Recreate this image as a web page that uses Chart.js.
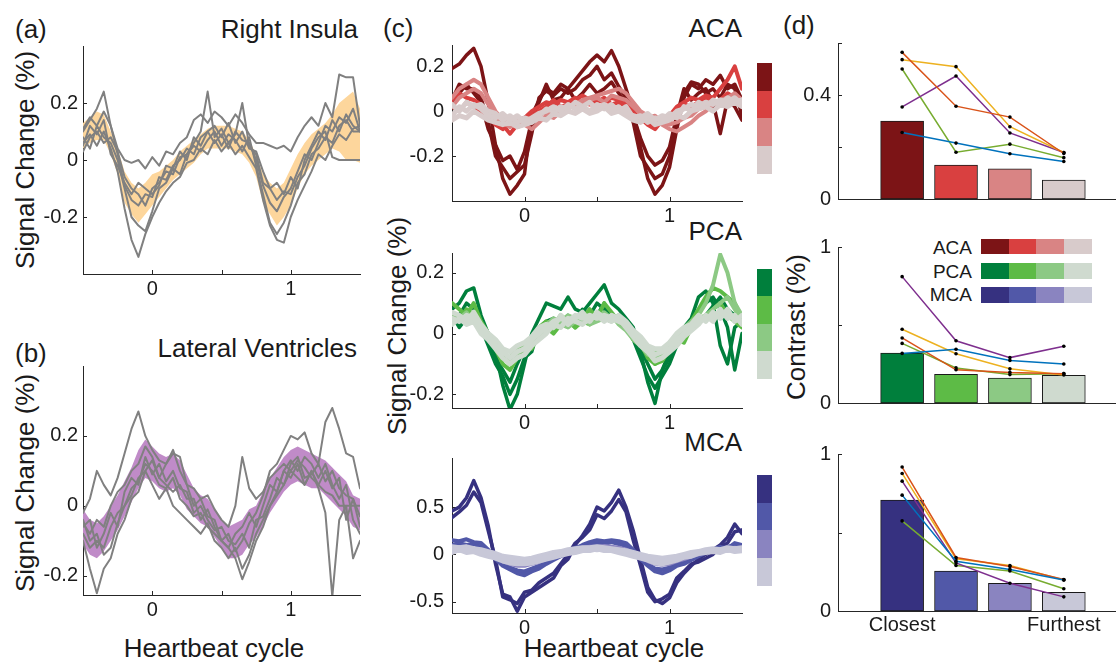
<!DOCTYPE html>
<html>
<head>
<meta charset="utf-8">
<title>Heartbeat-locked signal change</title>
<script src="https://cdn.jsdelivr.net/npm/chart.js@4.4.1/dist/chart.umd.min.js"></script>
<style>
  body { margin: 0; width: 1118px; height: 665px; position: relative; overflow: hidden; background: #fff;
         font-family: "Liberation Sans", Arial, sans-serif; color: #1a1a1a; }
  canvas { position: absolute; }
  .lbl { position: absolute; font-size: 26px; line-height: 26px; white-space: nowrap; }
  .rot { transform: translate(-50%, -50%) rotate(-90deg); }
  .leg { position: absolute; font-size: 19px; line-height: 19px; white-space: nowrap; }
  .sw { position: absolute; }
</style>
</head>
<body>

<div class="lbl" style="left:15px;top:16px">(a)</div>
<div class="lbl" style="right:760px;top:16px">Right Insula</div>
<div class="lbl" style="left:15px;top:340px">(b)</div>
<div class="lbl" style="right:761px;top:335px">Lateral Ventricles</div>
<div class="lbl rot" style="left:25px;top:160px">Signal Change (%)</div>
<div class="lbl rot" style="left:25px;top:483px">Signal Change (%)</div>
<div class="lbl" style="left:214px;top:635px;transform:translateX(-50%)">Heartbeat cycle</div>

<div class="lbl" style="left:383px;top:15px">(c)</div>
<div class="lbl" style="right:376px;top:15px">ACA</div>
<div class="lbl" style="right:376px;top:218px">PCA</div>
<div class="lbl" style="right:376px;top:429px">MCA</div>
<div class="lbl rot" style="left:397px;top:326px">Signal Change (%)</div>
<div class="lbl" style="left:614px;top:635px;transform:translateX(-50%)">Heartbeat cycle</div>

<div class="lbl" style="left:783px;top:12px">(d)</div>
<div class="lbl rot" style="left:796px;top:327px">Contrast (%)</div>
<div class="leg" style="right:146px;top:238px">ACA</div>
<div class="leg" style="right:146px;top:262px">PCA</div>
<div class="leg" style="right:146px;top:285px">MCA</div>

<script>
// heartbeat cycle sample positions
const cycle = [-0.5,-0.45,-0.4,-0.35,-0.3,-0.25,-0.2,-0.15,-0.1,-0.05,
  0,0.05,0.1,0.15,0.2,0.25,0.3,0.35,0.4,0.45,
  0.5,0.55,0.6,0.65,0.7,0.75,0.8,0.85,0.9,0.95,
  1,1.05,1.1,1.15,1.2,1.25,1.3,1.35,1.4,1.45,1.5];

// (a) right insula: spread band + single runs
const insulaUpper = [0.13,0.15,0.17,0.16,0.1,0.04,-0.04,-0.08,-0.1,-0.08, -0.05,-0.04,-0.02,0.0,0.03,0.05,0.07,0.09,0.11,0.12, 0.12,0.12,0.11,0.1,0.07,0.02,-0.05,-0.08,-0.1,-0.08, -0.03,0.02,0.06,0.09,0.11,0.13,0.16,0.2,0.22,0.24,0.18];
const insulaLower = [0.04,0.06,0.07,0.07,0.02,-0.05,-0.15,-0.19,-0.22,-0.19, -0.16,-0.13,-0.1,-0.07,-0.05,-0.03,-0.01,0.02,0.04,0.04, 0.04,0.04,0.03,0.02,-0.01,-0.06,-0.15,-0.19,-0.23,-0.2, -0.16,-0.1,-0.05,-0.02,0.0,0.02,0.04,0.03,0.0,0.0,-0.01];
const insulaRuns = [
  [0.06,0.09,0.05,0.1,0.04,-0.04,-0.17,-0.28,-0.34,-0.26, -0.2,-0.15,-0.11,-0.08,-0.06,-0.01,0.0,0.04,0.02,0.07, 0.03,0.06,0.02,0.05,0.01,-0.03,-0.14,-0.23,-0.28,-0.29, -0.2,-0.14,-0.09,-0.04,0.02,0.0,0.05,0.09,0.07,0.11,0.12],
  [0.11,0.15,0.12,0.17,0.12,0.04,0.0,-0.01,0.0,-0.03, 0.01,-0.02,0.03,0.02,0.06,0.08,0.14,0.16,0.13,0.17, 0.15,0.12,0.16,0.13,0.09,0.06,0.06,0.05,0.04,0.05, 0.03,0.08,0.12,0.15,0.12,0.2,0.15,0.3,0.29,0.29,0.12],
  [0.03,0.08,0.1,0.06,0.08,0.03,-0.06,-0.1,-0.12,-0.16, -0.1,-0.08,-0.04,-0.05,0.01,0.02,0.06,0.1,0.24,0.08, 0.11,0.06,0.09,0.2,0.05,0.02,-0.08,-0.1,-0.14,-0.11, -0.12,-0.06,-0.02,0.04,0.08,0.1,0.01,0.0,0.0,0.0,0.0],
  [0.1,0.14,0.18,0.24,0.12,0.02,-0.09,-0.14,-0.16,-0.12, -0.13,-0.06,-0.07,-0.02,0.0,0.04,0.02,0.08,0.1,0.06, 0.09,0.04,0.1,0.07,0.06,0.0,-0.09,-0.15,-0.18,-0.13, -0.1,-0.04,0.02,0.0,0.06,0.12,0.1,0.15,0.13,0.18,0.1],
  [0.08,0.04,0.12,0.08,0.06,0.0,-0.1,-0.2,-0.23,-0.25, -0.18,-0.1,-0.08,-0.03,-0.05,0.02,0.05,0.03,0.07,0.1, 0.05,0.09,0.07,0.03,0.08,-0.02,-0.12,-0.22,-0.26,-0.22, -0.16,-0.08,-0.05,0.02,0.04,0.08,0.06,0.12,0.14,0.1,0.1],
  [0.05,0.12,0.09,0.14,0.02,-0.02,-0.08,-0.12,-0.08,-0.1, -0.12,-0.09,-0.02,-0.03,0.03,0.0,0.08,0.05,0.1,0.12, 0.08,0.13,0.06,0.1,0.04,0.03,-0.04,-0.1,-0.08,-0.12, -0.06,-0.1,0.0,0.05,0.1,0.07,0.14,0.1,0.16,0.12,0.1]
];

// (b) lateral ventricles
const ventUpper = [-0.01,-0.04,-0.05,-0.03,0.0,0.03,0.07,0.11,0.16,0.19, 0.17,0.15,0.14,0.15,0.13,0.09,0.05,0.03,0.02,-0.01, -0.04,-0.06,-0.05,-0.04,-0.01,0.0,0.04,0.08,0.11,0.14, 0.16,0.17,0.16,0.15,0.14,0.13,0.11,0.09,0.07,0.03,0.02];
const ventLower = [-0.11,-0.14,-0.15,-0.13,-0.1,-0.07,-0.03,0.01,0.05,0.08, 0.07,0.05,0.04,0.05,0.03,-0.01,-0.03,-0.05,-0.06,-0.09, -0.12,-0.15,-0.15,-0.14,-0.11,-0.09,-0.06,-0.02,0.01,0.04, 0.06,0.07,0.06,0.05,0.05,0.03,0.01,-0.01,-0.03,-0.06,-0.07];
const ventRuns = [
  [-0.02,0.02,0.1,0.06,0.03,0.08,0.15,0.22,0.27,0.2, 0.16,0.13,0.12,0.15,0.14,0.06,0.05,0.02,0.03,-0.01, -0.04,-0.06,0.0,0.14,0.05,0.02,0.04,0.08,0.1,0.12, 0.1,0.13,0.11,0.08,0.06,0.1,0.05,0.08,-0.04,0.02,-0.06],
  [-0.1,-0.18,-0.25,-0.18,-0.15,-0.08,-0.04,0.02,0.04,0.1, 0.06,0.02,0.05,0.0,-0.02,-0.04,-0.06,-0.08,-0.05,-0.1, -0.12,-0.15,-0.12,-0.18,-0.14,-0.08,-0.04,0.0,0.04,0.1, 0.08,0.12,0.06,0.1,0.05,-0.02,-0.26,-0.04,0.0,-0.15,-0.1],
  [-0.05,-0.08,-0.04,-0.06,0.0,0.04,0.06,0.1,0.12,0.17, 0.14,0.08,0.12,0.16,0.1,0.06,0.0,0.02,-0.03,-0.04, -0.1,-0.08,-0.13,-0.1,-0.05,-0.02,0.03,0.1,0.12,0.16, 0.2,0.19,0.21,0.15,0.12,0.24,0.28,0.22,0.15,0.14,0.05],
  [-0.08,-0.12,-0.1,-0.12,-0.06,-0.02,0.0,0.05,0.07,0.12, 0.1,0.06,0.05,0.08,0.02,0.0,-0.03,-0.02,-0.06,-0.08, -0.1,-0.12,-0.15,-0.21,-0.16,-0.1,-0.06,0.0,0.03,0.06, 0.1,0.08,0.06,0.1,0.06,0.04,0.03,0.0,0.0,0.0,0.0],
  [-0.04,-0.1,-0.08,-0.14,-0.12,-0.05,0.0,0.03,0.08,0.1, 0.13,0.08,0.06,0.04,0.06,0.02,0.02,-0.04,-0.01,-0.06, -0.1,-0.12,-0.08,-0.06,-0.02,-0.06,0.0,0.06,0.04,0.1, 0.13,0.1,0.14,0.12,0.08,0.12,0.06,0.02,0.06,-0.04,-0.08],
  [-0.06,-0.04,-0.12,-0.08,-0.02,-0.06,0.04,0.08,0.06,0.14, 0.09,0.12,0.07,0.1,0.05,0.04,-0.02,0.0,-0.04,-0.07, -0.06,-0.1,-0.11,-0.08,-0.12,-0.04,-0.03,0.02,0.08,0.06, 0.12,0.14,0.08,0.09,0.12,0.07,0.1,0.05,0.03,0.02,-0.03]
];

// (c) vessel territories, closest -> furthest
const acaRuns = [
  [[0.19,0.21,0.25,0.28,0.2,0.04,-0.15,-0.3,-0.37,-0.33, -0.28,-0.02,0.05,0.1,0.08,0.12,0.1,0.14,0.18,0.22, 0.25,0.22,0.27,0.2,0.1,0.0,-0.16,-0.3,-0.37,-0.33, -0.25,-0.08,0.06,0.12,0.1,0.14,0.12,0.16,0.1,0.12,0.05],
   [0.05,0.12,0.1,0.1,0.06,-0.05,-0.2,-0.25,-0.3,-0.27, -0.24,-0.1,0.06,0.09,0.07,0.1,0.08,0.1,0.14,0.16, 0.2,0.14,0.17,0.11,0.06,-0.05,-0.2,-0.25,-0.3,-0.28, -0.2,-0.04,0.08,0.13,0.12,0.08,0.1,0.06,0.12,0.1,-0.02],
   [0.03,0.08,0.12,0.08,0.04,-0.08,-0.15,-0.22,-0.2,-0.26, -0.18,-0.04,0.04,0.12,0.05,0.06,0.1,0.05,0.08,0.12, 0.08,0.1,0.13,0.08,0.04,-0.02,-0.12,-0.2,-0.24,-0.22, -0.16,-0.02,0.1,0.05,0.08,0.1,0.04,-0.1,0.05,0.02,-0.04]],
  [[0.05,0.08,0.06,0.05,0.03,-0.02,-0.06,-0.08,-0.05,-0.04, -0.03,0.0,0.02,0.04,0.03,0.05,0.04,0.06,0.04,0.03, 0.05,0.04,0.06,0.05,0.03,0.0,-0.04,-0.05,-0.06,-0.05, -0.02,0.02,0.04,0.06,0.05,0.07,0.06,0.1,0.14,0.2,0.1],
   [0.02,0.0,0.04,0.02,0.0,-0.03,-0.03,-0.06,-0.1,-0.06, -0.04,-0.02,0.0,0.02,0.05,0.02,0.03,0.05,0.07,0.05, 0.04,0.06,0.03,0.04,0.02,-0.02,-0.03,-0.06,-0.08,-0.04, -0.05,0.0,0.03,0.02,0.04,0.06,0.03,0.05,0.08,0.06,0.04]],
  [[0.06,0.1,0.12,0.14,0.12,0.06,0.0,-0.04,-0.06,-0.07, -0.06,-0.08,-0.05,-0.02,-0.03,0.0,0.02,0.03,0.05,0.06, 0.07,0.08,0.09,0.1,0.08,0.04,0.0,-0.02,-0.04,-0.06, -0.08,-0.09,-0.07,-0.05,-0.02,0.0,0.03,0.05,0.06,0.08,0.05],
   [0.02,0.06,0.08,0.1,0.08,0.03,-0.02,-0.05,-0.07,-0.05, -0.04,-0.05,-0.02,0.0,-0.02,0.02,0.01,0.04,0.03,0.05, 0.06,0.04,0.07,0.06,0.05,0.02,-0.01,-0.03,-0.02,-0.05, -0.06,-0.05,-0.03,-0.02,0.01,0.02,0.04,0.03,0.05,0.06,0.03]],
  [[-0.02,0.02,0.0,0.03,0.01,-0.02,-0.03,-0.01,-0.04,-0.02, -0.05,-0.03,-0.01,0.0,0.02,0.0,0.03,0.01,0.02,0.04, 0.01,0.03,0.0,0.02,-0.01,-0.02,-0.03,-0.01,-0.04,-0.02, -0.03,0.0,0.01,0.03,0.02,0.04,0.03,0.05,0.04,0.06,0.03],
   [0.03,0.0,0.04,0.02,0.03,0.0,-0.01,-0.04,-0.02,-0.05, -0.03,-0.04,-0.02,0.01,0.0,0.02,0.01,0.04,0.02,0.0, 0.03,0.01,0.03,0.0,0.02,-0.03,-0.02,-0.05,-0.03,-0.04, -0.01,-0.03,0.02,0.0,0.04,0.02,0.05,0.03,0.06,0.04,0.05],
   [-0.04,-0.02,-0.03,0.0,-0.02,-0.04,-0.05,-0.06,-0.05,-0.07, -0.06,-0.05,-0.03,-0.04,-0.01,-0.02,0.0,-0.01,0.01,-0.01, 0.0,0.02,-0.01,0.0,-0.02,-0.04,-0.05,-0.03,-0.06,-0.05, -0.04,-0.02,-0.03,0.0,0.01,0.02,0.0,0.03,0.02,0.04,0.02]]
];
const pcaRuns = [
  [[0.08,0.1,0.14,0.15,0.06,0.0,-0.06,-0.17,-0.25,-0.2, -0.1,0.0,0.05,0.1,0.09,0.08,0.12,0.08,0.07,0.1, 0.13,0.16,0.1,0.08,0.05,0.02,-0.06,-0.16,-0.23,-0.12, -0.08,-0.02,0.02,0.05,0.12,0.14,0.1,-0.04,-0.1,0.02,0.04],
   [0.04,0.06,0.1,0.08,0.02,-0.04,-0.1,-0.14,-0.2,-0.15, -0.08,-0.06,0.02,0.04,0.05,0.03,0.06,0.04,0.08,0.06, 0.1,0.08,0.06,0.05,0.04,-0.02,-0.08,-0.14,-0.18,-0.14, -0.1,-0.04,-0.01,0.03,0.07,0.1,0.12,0.08,0.02,-0.12,0.0],
   [0.06,0.02,0.05,0.06,0.04,-0.02,-0.08,-0.12,-0.16,-0.1, -0.05,-0.02,0.0,0.03,0.02,0.04,0.03,0.06,0.05,0.07, 0.06,0.1,0.05,0.06,0.03,0.0,-0.05,-0.1,-0.15,-0.12, -0.06,-0.03,0.0,0.02,0.04,0.06,0.09,0.12,0.08,0.06,0.05]],
  [[0.1,0.08,0.06,0.1,0.04,0.0,-0.05,-0.1,-0.12,-0.08, -0.06,-0.02,0.02,0.04,0.03,0.06,0.04,0.02,0.05,0.08, 0.05,0.1,0.07,0.04,0.03,0.0,-0.03,-0.08,-0.1,-0.08, -0.06,-0.04,0.0,0.04,0.08,0.12,0.15,0.14,0.12,0.1,0.05],
   [0.05,0.04,0.08,0.06,0.03,-0.02,-0.04,-0.06,-0.1,-0.06, -0.04,-0.05,0.0,0.02,0.0,0.03,0.05,0.02,0.04,0.03, 0.06,0.05,0.04,0.06,0.02,-0.02,-0.04,-0.06,-0.1,-0.09, -0.05,-0.02,-0.03,0.02,0.04,0.06,0.08,0.1,0.06,0.04,0.02]],
  [[0.06,0.05,0.07,0.04,0.02,-0.02,-0.04,-0.08,-0.1,-0.07, -0.04,-0.02,0.0,0.03,0.05,0.04,0.06,0.05,0.04,0.06, 0.05,0.07,0.05,0.04,0.02,0.0,-0.02,-0.05,-0.08,-0.06, -0.04,-0.02,0.02,0.04,0.06,0.1,0.16,0.26,0.2,0.1,0.06],
   [0.03,0.06,0.04,0.05,0.01,-0.01,-0.03,-0.06,-0.08,-0.05, -0.06,-0.03,-0.01,0.01,0.02,0.03,0.02,0.04,0.06,0.03, 0.04,0.05,0.06,0.03,0.01,-0.02,-0.04,-0.07,-0.06,-0.08, -0.03,-0.01,0.0,0.02,0.05,0.06,0.08,0.1,0.12,0.08,0.04]],
  [[0.05,0.04,0.06,0.05,0.02,-0.01,-0.04,-0.06,-0.08,-0.06, -0.05,-0.02,0.0,0.02,0.04,0.05,0.04,0.06,0.05,0.06, 0.05,0.06,0.05,0.04,0.03,0.0,-0.02,-0.05,-0.07,-0.06, -0.05,-0.02,0.0,0.02,0.04,0.05,0.06,0.07,0.06,0.05,0.04],
   [0.03,0.05,0.03,0.04,0.0,-0.02,-0.05,-0.08,-0.1,-0.08, -0.07,-0.04,-0.02,0.0,0.03,0.02,0.05,0.04,0.03,0.05, 0.06,0.04,0.06,0.05,0.02,-0.01,-0.04,-0.06,-0.09,-0.08, -0.06,-0.04,-0.01,0.01,0.03,0.06,0.04,0.08,0.05,0.06,0.03],
   [0.07,0.06,0.04,0.07,0.03,0.0,-0.02,-0.05,-0.06,-0.04, -0.03,-0.01,0.02,0.03,0.02,0.06,0.03,0.05,0.07,0.04, 0.07,0.05,0.04,0.06,0.04,0.01,-0.01,-0.04,-0.05,-0.05, -0.03,0.0,0.02,0.03,0.06,0.04,0.07,0.05,0.08,0.04,0.06]]
];
const mcaRuns = [
  [[0.46,0.5,0.6,0.78,0.6,0.3,-0.1,-0.42,-0.45,-0.6, -0.45,-0.4,-0.35,-0.3,-0.25,-0.12,-0.05,0.1,0.2,0.32, 0.5,0.46,0.55,0.68,0.5,0.25,-0.05,-0.35,-0.48,-0.52, -0.46,-0.3,-0.2,-0.12,-0.05,0.0,0.05,0.1,0.18,0.32,0.22],
   [0.39,0.45,0.52,0.66,0.55,0.25,-0.05,-0.45,-0.48,-0.52, -0.4,-0.38,-0.3,-0.25,-0.2,-0.1,0.0,0.12,0.18,0.26, 0.42,0.38,0.46,0.58,0.45,0.15,-0.12,-0.4,-0.5,-0.47, -0.42,-0.25,-0.18,-0.1,-0.08,-0.04,0.0,0.08,0.12,0.24,0.26]],
  [[0.15,0.14,0.16,0.13,0.12,0.05,-0.05,-0.12,-0.16,-0.2, -0.22,-0.18,-0.15,-0.1,-0.06,-0.02,0.02,0.06,0.1,0.13, 0.15,0.14,0.15,0.14,0.12,0.05,-0.05,-0.12,-0.18,-0.2, -0.17,-0.12,-0.1,-0.06,-0.02,0.02,0.05,0.08,0.06,0.12,0.1],
   [0.1,0.12,0.1,0.11,0.08,0.03,-0.04,-0.1,-0.14,-0.17, -0.18,-0.15,-0.12,-0.08,-0.04,0.0,0.03,0.07,0.09,0.11, 0.12,0.11,0.13,0.11,0.09,0.03,-0.04,-0.1,-0.15,-0.16, -0.14,-0.1,-0.07,-0.04,0.0,0.03,0.05,0.06,0.08,0.1,0.08]],
  [[0.08,0.07,0.08,0.06,0.05,0.01,-0.03,-0.07,-0.1,-0.12, -0.12,-0.1,-0.08,-0.05,-0.02,0.01,0.03,0.05,0.07,0.08, 0.08,0.09,0.08,0.07,0.05,0.02,-0.03,-0.07,-0.1,-0.11, -0.1,-0.07,-0.05,-0.02,0.0,0.03,0.04,0.05,0.06,0.07,0.06]],
  [[0.06,0.04,0.05,0.04,0.03,0.0,-0.02,-0.04,-0.06,-0.07, -0.08,-0.07,-0.05,-0.03,-0.01,0.01,0.03,0.04,0.05,0.06, 0.05,0.06,0.05,0.04,0.03,0.01,-0.01,-0.04,-0.06,-0.07, -0.06,-0.04,-0.02,0.0,0.02,0.03,0.04,0.05,0.04,0.06,0.05],
   [0.02,0.05,0.02,0.03,0.0,-0.02,-0.04,-0.07,-0.09,-0.1, -0.1,-0.09,-0.07,-0.05,-0.03,-0.01,0.01,0.02,0.04,0.04, 0.06,0.04,0.04,0.02,0.0,-0.02,-0.04,-0.06,-0.09,-0.1, -0.08,-0.06,-0.03,-0.02,0.01,0.02,0.03,0.02,0.05,0.03,0.04],
   [0.08,0.07,0.08,0.06,0.05,0.03,0.01,-0.02,-0.03,-0.04, -0.05,-0.04,-0.02,0.0,0.02,0.03,0.05,0.06,0.07,0.07, 0.08,0.07,0.06,0.05,0.04,0.02,0.0,-0.02,-0.03,-0.04, -0.03,-0.02,0.0,0.02,0.03,0.05,0.06,0.05,0.07,0.06,0.07]]
];

// (d) contrast by distance to the vessel
const distance = [1, 2, 3, 4];
const distLabels = ['Closest', '', '', 'Furthest'];
const acaMean = [0.30, 0.13, 0.116, 0.073];
const pcaMean = [0.32, 0.184, 0.159, 0.178];
const mcaMean = [0.707, 0.255, 0.177, 0.119];
// subjects: blue, orange, yellow, purple, green
const acaSubj = [[0.256,0.215,0.174,0.144],[0.564,0.357,0.315,0.175],[0.536,0.509,0.278,0.179],[0.354,0.473,0.254,0.179],[0.5,0.18,0.211,0.159]];
const pcaSubj = [[0.318,0.345,0.273,0.25],[0.417,0.213,0.196,0.188],[0.473,0.316,0.219,0.18],[0.81,0.399,0.291,0.364],[0.382,0.225,0.182,0.188]];
const mcaSubj = [[0.738,0.317,0.265,0.198],[0.917,0.341,0.284,0.201],[0.876,0.333,0.29,0.198],[0.827,0.306,0.177,0.09],[0.574,0.29,0.255,0.142]];
const subjColors = ['#0072bd', '#d95319', '#edb120', '#7e2f8e', '#77ac30'];

const acaShades = ['#7c1416', '#d94040', '#d98484', '#d8cbcb'];
const pcaShades = ['#007f3c', '#5dbb46', '#8cc984', '#cfdacf'];
const mcaShades = ['#363180', '#5158a8', '#8a84c0', '#c8c8d8'];
// line widths per shade, closest -> furthest
const shadeWidths = [3.5, 4, 4, 5];

// tick positions / labels
const cycleTicks = [0, 0.5, 1];
const cycleLabels = ['0', '', '1'];
const smallTicks = [-0.2, 0, 0.2];
const smallLabels = ['-0.2', '0', '0.2'];
const mcaTicks = [-0.5, 0, 0.5];
const mcaLabels = ['-0.5', '0', '0.5'];
const acaContrastTicks = [0, 0.2, 0.4, 0.6];
const acaContrastLabels = ['0', '', '0.4', ''];
const unitTicks = [0, 0.5, 1];
const unitLabels = ['0', '', '1'];

// ---- drawing helpers ----
const tickFont = { family: 'Liberation Sans', size: 20 };

function pts(ys) {
    return cycle.map((t, i) => ({ x: t, y: ys[i] }));
}

// MATLAB style ticks pointing into the plot
const inTicks = {
    id: 'inTicks',
    beforeDatasetsDraw(chart, args, opts) {
        const { ctx, chartArea: a, scales: { x, y } } = chart;
        ctx.save();
        ctx.strokeStyle = '#262626';
        ctx.lineWidth = 1;
        ctx.beginPath();
        if (opts.xMarks) {
            x.ticks.forEach(t => {
                const px = Math.round(x.getPixelForValue(t.value)) + 0.5;
                ctx.moveTo(px, a.bottom);
                ctx.lineTo(px, a.bottom - 4);
            });
        }
        y.ticks.forEach(t => {
            const py = Math.round(y.getPixelForValue(t.value)) + 0.5;
            ctx.moveTo(a.left, py);
            ctx.lineTo(a.left + 4, py);
        });
        ctx.stroke();
        ctx.restore();
    }
};

function axis(min, max, vals, labels, dir, size, pad) {
    return {
        type: 'linear', min: min, max: max, offset: false,
        afterBuildTicks: s => { s.ticks = vals.map(v => ({ value: v })); },
        afterFit: s => { if (dir === 'x') s.height = size; else s.width = size; },
        ticks: { autoSkip: false, maxRotation: 0, padding: pad, color: '#1a1a1a', font: tickFont,
                 callback: (v, i) => labels[i] },
        grid: { display: false, drawTicks: false },
        border: { display: true, color: '#262626', width: 1 }
    };
}

// box = plot area on the page: [left, top, right, bottom]
function makeChart(box, type, datasets, sc) {
    const padL = 64, padT = 14, padR = 10, padB = 34;
    const cv = document.createElement('canvas');
    cv.width = box[2] - box[0] + padL + padR;
    cv.height = box[3] - box[1] + padT + padB;
    cv.style.left = (box[0] - padL) + 'px';
    cv.style.top = (box[1] - padT) + 'px';
    document.body.appendChild(cv);
    return new Chart(cv, {
        type: type,
        data: { datasets: datasets },
        options: {
            responsive: false, animation: false, devicePixelRatio: 1,
            layout: { padding: { left: 0, top: padT, right: padR, bottom: 0 } },
            plugins: { legend: { display: false }, tooltip: { enabled: false },
                       inTicks: { xMarks: sc.xMarks !== false } },
            scales: {
                x: axis(sc.xMin, sc.xMax, sc.xTicks, sc.xLabels, 'x', padB, sc.xPad),
                y: axis(sc.yMin, sc.yMax, sc.yTicks, sc.yLabels, 'y', padL, sc.yPad)
            }
        },
        plugins: [inTicks]
    });
}

function trace(ys, color, width, order) {
    return { type: 'line', data: pts(ys), borderColor: color, borderWidth: width, pointRadius: 0,
             tension: 0, borderJoinStyle: 'round', borderCapStyle: 'round', fill: false, order: order };
}

function bandPanel(box, upper, lower, runs, bandColor, yMin, yMax) {
    const ds = [
        { type: 'line', data: pts(lower), borderColor: 'rgba(0,0,0,0)', borderWidth: 0, pointRadius: 0, fill: false, order: 20 },
        { type: 'line', data: pts(upper), borderColor: 'rgba(0,0,0,0)', borderWidth: 0, pointRadius: 0, fill: '-1', backgroundColor: bandColor, order: 20 }
    ];
    runs.forEach(r => ds.push(trace(r, '#808080', 2, 1)));
    makeChart(box, 'line', ds, { xMin: -0.5, xMax: 1.5, xTicks: cycleTicks, xLabels: cycleLabels, xPad: 3,
                                 yMin: yMin, yMax: yMax, yTicks: smallTicks, yLabels: smallLabels, yPad: 5 });
}

function vesselPanel(box, groups, shades, yMin, yMax, yTicks, yLabels) {
    const ds = [];
    groups.forEach((g, k) => g.forEach(r => ds.push(trace(r, shades[k], shadeWidths[k], 3 - k))));
    makeChart(box, 'line', ds, { xMin: -0.5, xMax: 1.5, xTicks: cycleTicks, xLabels: cycleLabels, xPad: 3,
                                 yMin: yMin, yMax: yMax, yTicks: yTicks, yLabels: yLabels, yPad: 8 });
}

function contrastPanel(box, means, subj, shades, yMax, yTicks, yLabels, xLabels) {
    const ds = [{ type: 'bar', data: distance.map((d, i) => ({ x: d, y: means[i] })),
                  backgroundColor: shades, borderColor: '#1a1a1a', borderWidth: 1, borderSkipped: false,
                  barThickness: 43, order: 10 }];
    subj.forEach((s, k) => ds.push({
        type: 'line', data: distance.map((d, i) => ({ x: d, y: s[i] })), borderColor: subjColors[k],
        borderWidth: 1.5, pointRadius: 1.8, pointBackgroundColor: '#000', pointBorderWidth: 0,
        tension: 0, fill: false, order: k
    }));
    makeChart(box, 'bar', ds, { xMin: -0.19, xMax: 4.95, xTicks: distance, xLabels: xLabels, xPad: 2, xMarks: false,
                                yMin: 0, yMax: yMax, yTicks: yTicks, yLabels: yLabels, yPad: 7 });
}

function swatch(x, y, w, h, colors, vertical) {
    colors.forEach((c, i) => {
        const d = document.createElement('div');
        d.className = 'sw';
        d.style.background = c;
        if (vertical) {
            d.style.left = x + 'px'; d.style.width = w + 'px';
            d.style.top = (y + i * h / 4) + 'px'; d.style.height = (h / 4 + 0.5) + 'px';
        } else {
            d.style.top = y + 'px'; d.style.height = h + 'px';
            d.style.left = (x + i * w / 4) + 'px'; d.style.width = (w / 4 + 0.5) + 'px';
        }
        document.body.appendChild(d);
    });
}

// ---- panels ----
bandPanel([83, 43, 360, 274], insulaUpper, insulaLower, insulaRuns, '#fdd69c', -0.4, 0.4);
bandPanel([83, 363, 360, 595], ventUpper, ventLower, ventRuns, '#c08bc8', -0.255, 0.4);

vesselPanel([452, 39, 742, 201], acaRuns, acaShades, -0.4, 0.295, smallTicks, smallLabels);
vesselPanel([452, 247, 742, 408], pcaRuns, pcaShades, -0.245, 0.265, smallTicks, smallLabels);
vesselPanel([452, 452, 742, 613], mcaRuns, mcaShades, -0.62, 1.02, mcaTicks, mcaLabels);

swatch(757, 63, 15, 110, acaShades, true);
swatch(757, 269, 15, 109, pcaShades, true);
swatch(757, 475, 15, 110, mcaShades, true);

contrastPanel([838, 38, 1115, 199], acaMean, acaSubj, acaShades, 0.6, acaContrastTicks, acaContrastLabels, ['', '', '', '']);
contrastPanel([838, 242, 1115, 403], pcaMean, pcaSubj, pcaShades, 1, unitTicks, unitLabels, ['', '', '', '']);
contrastPanel([838, 449, 1115, 611], mcaMean, mcaSubj, mcaShades, 1, unitTicks, unitLabels, distLabels);

swatch(981, 239, 110, 15, acaShades, false);
swatch(981, 263, 110, 16, pcaShades, false);
swatch(981, 287, 110, 16, mcaShades, false);
</script>
</body>
</html>
